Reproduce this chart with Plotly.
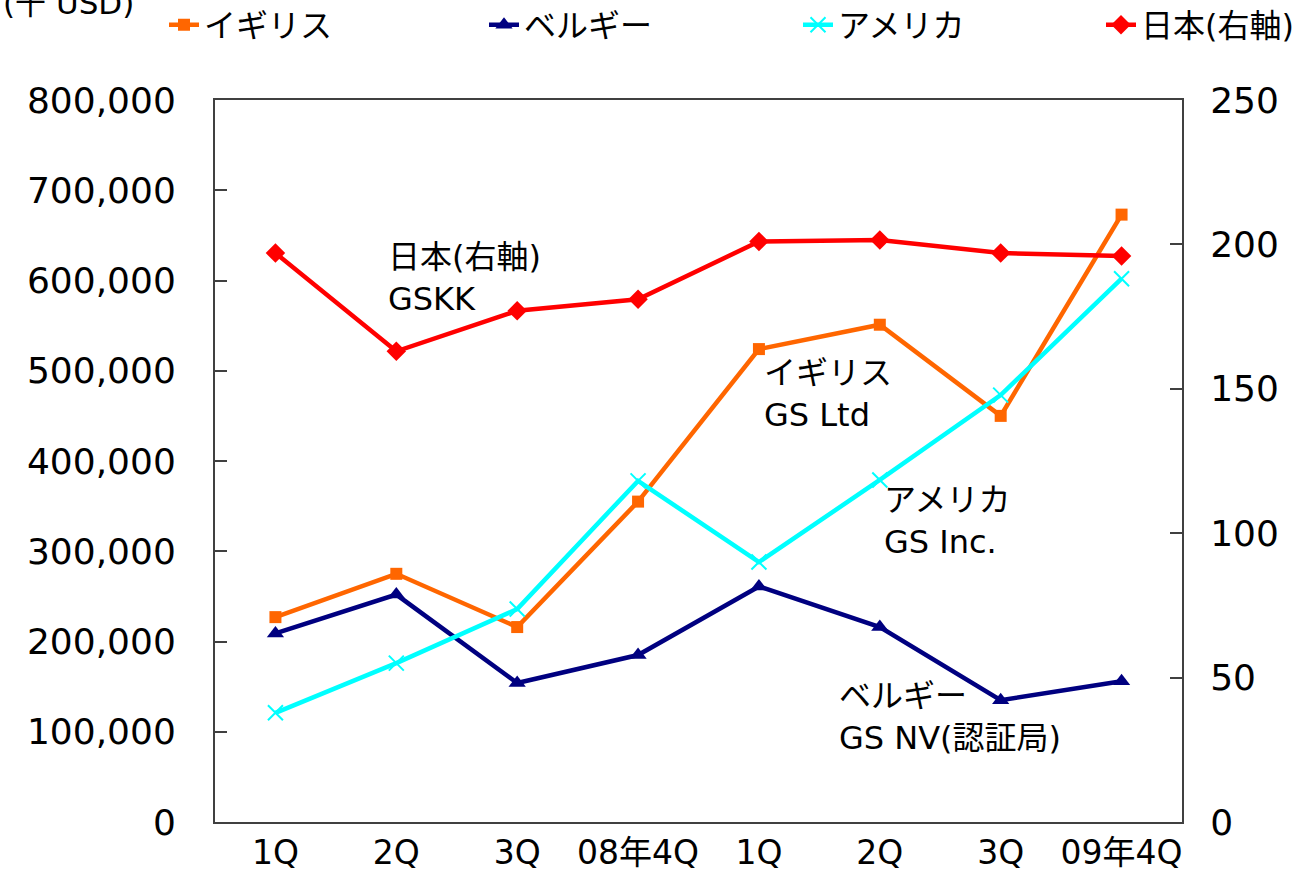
import plotly.graph_objects as go

quarters = ["1Q", "2Q", "3Q", "08年4Q", "1Q", "2Q", "3Q", "09年4Q"]
uk = [227000, 275000, 216000, 355000, 524000, 551000, 450000, 673000]
belgium = [209000, 252000, 154000, 185000, 261000, 216000, 135000, 156000]
usa = [121000, 176000, 236000, 378000, 288000, 379000, 473000, 602000]
japan = [197, 163, 177, 181, 201, 201.5, 197, 196]

W, H = 1295, 872
L, R, T, B = 215, 1182, 100, 822

def px(x):
    return (x - L) / (R - L)

def py(y):
    return (B - y) / (B - T)

FONT = "DejaVu Sans, Noto Sans CJK JP, sans-serif"
xs = list(range(len(quarters)))

fig = go.Figure()
fig.add_trace(go.Scatter(x=xs, y=uk, name="イギリス", mode="lines+markers",
                         legend="legend",
                         line=dict(color="#FF6600", width=4.5),
                         marker=dict(symbol="square", size=12, color="#FF6600")))
fig.add_trace(go.Scatter(x=xs, y=belgium, name="ベルギー", mode="lines+markers",
                         legend="legend2",
                         line=dict(color="#000080", width=4.5),
                         marker=dict(symbol="triangle-up", size=15, color="#000080")))
fig.add_trace(go.Scatter(x=xs, y=usa, name="アメリカ", mode="lines+markers",
                         legend="legend3",
                         line=dict(color="#00FFFF", width=4.5),
                         marker=dict(symbol="x-thin", size=15,
                                     line=dict(color="#00FFFF", width=2))))
fig.add_trace(go.Scatter(x=xs, y=japan, name="日本(右軸)", mode="lines+markers",
                         yaxis="y2", legend="legend4",
                         line=dict(color="#FF0000", width=4.5),
                         marker=dict(symbol="diamond", size=15, color="#FF0000")))

annots = [
    ("日本(右軸)<br>GSKK", 386, 236),
    ("イギリス<br>GS Ltd", 762, 352),
    ("アメリカ<br>GS Inc.", 882, 479),
    ("ベルギー<br>GS NV(認証局)", 837, 675),
]
annotations = []
for text, ax, ay in annots:
    annotations.append(dict(text=text, x=px(ax), y=py(ay), xref="paper", yref="paper",
                            xanchor="left", yanchor="top", showarrow=False, align="left",
                            font=dict(size=32, color="black", family=FONT)))
annotations.append(dict(text="(千 USD)", x=px(136), y=py(3), xref="paper", yref="paper",
                        xanchor="right", yanchor="middle", showarrow=False,
                        font=dict(size=31, color="black", family=FONT)))

def leg(xpix):
    return dict(orientation="h", x=px(xpix), y=py(25), xanchor="left", yanchor="middle",
                font=dict(size=32, color="black", family=FONT),
                bgcolor="rgba(0,0,0,0)", borderwidth=0)

fig.update_layout(
    width=W, height=H,
    margin=dict(l=L, r=W - R, t=T, b=H - B, autoexpand=False),
    paper_bgcolor="white", plot_bgcolor="white",
    font=dict(family=FONT, size=32, color="black"),
    showlegend=True,
    legend=leg(164),
    legend2=leg(484),
    legend3=leg(798),
    legend4=leg(1101),
    xaxis=dict(range=[-0.5, 7.5], tickmode="array", tickvals=xs, ticktext=quarters,
               showline=True, linecolor="#404040", linewidth=2, mirror=True,
               ticks="", showgrid=False, zeroline=False, ticklabelstandoff=0,
               automargin=False, tickfont=dict(size=33)),
    yaxis=dict(range=[0, 800000], tickmode="array",
               tickvals=[0, 100000, 200000, 300000, 400000, 500000, 600000, 700000, 800000],
               ticktext=["0", "100,000", "200,000", "300,000", "400,000", "500,000",
                         "600,000", "700,000", "800,000"],
               showline=True, linecolor="#404040", linewidth=2, mirror=True,
               ticks="inside", ticklen=12, tickcolor="#404040", tickwidth=1.5,
               showgrid=False, zeroline=False, ticklabelstandoff=30,
               automargin=False, tickfont=dict(size=36)),
    yaxis2=dict(range=[0, 250], overlaying="y", side="right", tickmode="array",
                tickvals=[0, 50, 100, 150, 200, 250],
                showline=True, linecolor="#404040", linewidth=2,
                ticks="inside", ticklen=12, tickcolor="#404040", tickwidth=1.5,
                showgrid=False, zeroline=False, ticklabelstandoff=19,
                automargin=False, tickfont=dict(size=36)),
    annotations=annotations,
)

fig.write_html("out.html", config={"displayModeBar": False},
               post_script="document.body.style.margin='0';")
